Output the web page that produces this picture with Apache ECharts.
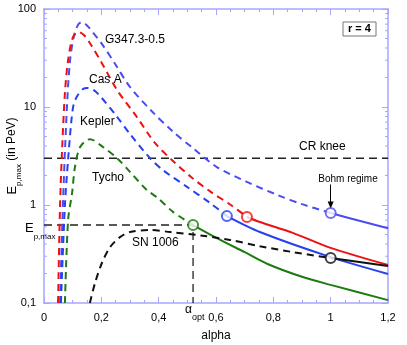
<!DOCTYPE html>
<html><head><meta charset="utf-8">
<script src="https://cdn.jsdelivr.net/npm/echarts@6/dist/echarts.min.js"></script>
<style>html,body{margin:0;padding:0;background:#fff}#c{width:407px;height:345px}</style>
</head><body><div id="c"></div>
<script>
// ---- tick labels ----
const xTicks = [0, 0.2, 0.4, 0.6, 0.8, 1, 1.2];
const xTickLabels = ['0', '0,2', '0,4', '0,6', '0,8', '1', '1,2'];
const yTicks = [0.1, 1, 10, 100];
const yTickLabels = ['0,1', '1', '10', '100'];

// ---- curves (alpha, E_p,max in PeV) ----
const g347Dashed = [[0.056,0.1],[0.066,1],[0.080,10],[0.091,30],[0.105,54],[0.120,70],[0.133,73.5],[0.150,68],[0.170,58],[0.202,44],[0.25,27],[0.30,16],[0.377,9],[0.45,5.6],[0.52,3.8],[0.603,2.44],[0.708,1.72],[0.816,1.26],[0.9,1.02],[1.0,0.83]];
const g347Solid = [[1.0,0.83],[1.1,0.69],[1.2,0.58]];
const casADashed = [[0.049,0.1],[0.056,1],[0.063,3.6],[0.073,13.9],[0.084,30],[0.101,51.7],[0.122,58],[0.14,54],[0.160,45],[0.202,28],[0.255,14.9],[0.324,7.9],[0.387,4.3],[0.446,2.88],[0.513,1.93],[0.582,1.36],[0.652,1.0],[0.708,0.755]];
const casASolid = [[0.708,0.755],[0.753,0.67],[0.868,0.52],[1.0,0.365],[1.2,0.244]];
const keplerDashed = [[0.059,0.1],[0.073,1],[0.084,2.9],[0.095,7],[0.103,10.5],[0.115,12.8],[0.135,15.2],[0.153,15.6],[0.175,14.8],[0.2,12.5],[0.25,8.3],[0.30,5.3],[0.37,3.0],[0.415,2.27],[0.499,1.53],[0.579,1.05],[0.638,0.77]];
const keplerSolid = [[0.638,0.77],[0.753,0.53],[1.0,0.294],[1.2,0.198]];
const tychoDashed = [[0.073,0.1],[0.084,0.7],[0.098,1.33],[0.108,2.44],[0.126,3.9],[0.160,4.7],[0.206,3.9],[0.255,3.0],[0.30,2.18],[0.359,1.42],[0.394,1.2],[0.45,0.85],[0.52,0.625]];
const tychoSolid = [[0.52,0.625],[0.603,0.46],[0.70,0.33],[0.78,0.25],[0.9,0.185],[1.0,0.153],[1.2,0.107]];
const sn1006Dashed = [[0.16,0.1],[0.178,0.16],[0.202,0.256],[0.23,0.37],[0.265,0.47],[0.30,0.53],[0.37,0.556],[0.44,0.53],[0.544,0.49],[0.649,0.44],[0.753,0.38],[0.87,0.33],[1.0,0.288]];
const sn1006Solid = [[1.0,0.288],[1.1,0.262],[1.2,0.238]];

// ---- reference lines ----
const crKnee = [[0, 3], [1.2, 3]];
const alphaOpt = 0.52;
const epMax = 0.625;
const optGuide = [[0, epMax], [alphaOpt, epMax], [alphaOpt, 0.1]];

// ---- Bohm-regime transition points ----
const bohmPoints = [[1.0,0.83],[0.708,0.755],[0.638,0.77],[0.52,0.625],[1.0,0.288]];
const bohmColors = ['#4b4bf2','#ee1111','#2640f0','#1e7a12','#111111'];

const FONT = '"Liberation Sans", Arial, Helvetica, sans-serif';
const AXIS_COLOR = '#a6a6ff';
const C_G347 = '#4b4bf2', C_CAS = '#ee1111', C_KEP = '#2640f0', C_TYC = '#1e7a12', C_SN = '#111111';

function dashed(data, color) {
  return {type:'line', data, smooth:0.3, symbol:'none', silent:true, z:3,
          lineStyle:{color, width:2, type:[7,5]}};
}
function solid(data, color) {
  return {type:'line', data, smooth:0.3, symbol:'none', silent:true, z:3,
          lineStyle:{color, width:2}};
}
const xFmt = v => { const i = xTicks.findIndex(t => Math.abs(t - v) < 1e-6); return i >= 0 ? xTickLabels[i] : ''; };
const yFmt = v => { const i = yTicks.findIndex(t => Math.abs(Math.log10(t) - Math.log10(v)) < 1e-6); return i >= 0 ? yTickLabels[i] : ''; };

const axisLineStyle = {color: AXIS_COLOR, width: 1.5};
function xAx(pos, labels) {
  return {type:'value', min:0, max:1.2, interval:0.2, position:pos,
    axisLine:{onZero:false, lineStyle:axisLineStyle},
    axisTick:{inside:true, length:6, lineStyle:{color:AXIS_COLOR, width:1}},
    minorTick:{show:true, splitNumber:4, length:3, lineStyle:{color:AXIS_COLOR, width:1}},
    splitLine:{show:false},
    axisLabel:{show:labels, color:'#000', fontSize:11, fontFamily:FONT, margin:9, formatter:xFmt}};
}
function yAx(pos, labels) {
  return {type:'log', logBase:10, min:0.1, max:100, position:pos,
    axisLine:{onZero:false, lineStyle:axisLineStyle},
    axisTick:{inside:true, length:6, lineStyle:{color:AXIS_COLOR, width:1}},
    minorTick:{show:false},
    splitLine:{show:false},
    axisLabel:{show:labels, color:'#000', fontSize:11, fontFamily:FONT, margin:8, formatter:yFmt}};
}

const chart = echarts.init(document.getElementById('c'));
const xa0 = xAx('bottom', true);
xa0.name = 'alpha'; xa0.nameLocation = 'middle'; xa0.nameGap = 27; xa0.nameMoveOverlap = false;
xa0.nameTextStyle = {color:'#000', fontSize:12, fontFamily:FONT};
const ya0 = yAx('left', true);
ya0.name = '{E|E}{s|p,max}{n| (in PeV)}'; ya0.nameLocation = 'middle'; ya0.nameGap = 23; ya0.nameMoveOverlap = false;
ya0.nameTextStyle = {color:'#000', fontFamily:FONT, rich:{
  E:{fontSize:13, color:'#000', fontFamily:FONT, lineHeight:18},
  s:{fontSize:8, color:'#000', fontFamily:FONT, lineHeight:18, verticalAlign:'bottom', padding:[0,0,-2,0]},
  n:{fontSize:12, color:'#000', fontFamily:FONT, lineHeight:18}}};

chart.setOption({
  animation:false,
  backgroundColor:'#fff',
  grid:{left:44, right:19, top:9, bottom:42, containLabel:false, outerBoundsMode:'none'},
  xAxis:[xa0, xAx('top', false)],
  yAxis:[ya0, yAx('right', false)],
  series:[
    {type:'line', data:crKnee, symbol:'none', silent:true, z:2, lineStyle:{color:'#222', width:1.3, type:[8,5]}},
    {type:'line', data:optGuide, symbol:'none', silent:true, z:2, lineStyle:{color:'#222', width:1.3, type:[8,5]}},
    dashed(g347Dashed, C_G347), solid(g347Solid, C_G347),
    dashed(casADashed, C_CAS), solid(casASolid, C_CAS),
    dashed(keplerDashed, C_KEP), solid(keplerSolid, C_KEP),
    dashed(tychoDashed, C_TYC), solid(tychoSolid, C_TYC),
    dashed(sn1006Dashed, C_SN), solid(sn1006Solid, C_SN),
    {type:'scatter', z:5, symbol:'emptyCircle', symbolSize:10, silent:true,
     data: bohmPoints.map((p, i) => ({value:p, itemStyle:{color:bohmColors[i], borderColor:bohmColors[i], borderWidth:1.8}}))},
    {type:'line', data:[], symbol:'none', silent:true,
     markLine:{silent:true, symbol:['none','triangle'], symbolSize:[6,7], label:{show:false},
       lineStyle:{color:'#000', width:1, type:'solid'},
       data:[[{coord:[1.0, 1.62]}, {coord:[1.0, 1.0]}]]}}
  ]
});

// minor log ticks on left/right axes, placed through the axis scale
const gx0 = chart.convertToPixel({xAxisIndex:0}, 0);
const gx1 = chart.convertToPixel({xAxisIndex:0}, 1.2);
const graphics = [];
[0.1, 1, 10].forEach(d => {
  for (let k = 2; k <= 9; k++) {
    const y = chart.convertToPixel({yAxisIndex:0}, k * d);
    graphics.push({type:'line', silent:true, shape:{x1:gx0, y1:y, x2:gx0 + 3, y2:y}, style:{stroke:AXIS_COLOR, lineWidth:1}});
    graphics.push({type:'line', silent:true, shape:{x1:gx1, y1:y, x2:gx1 - 3, y2:y}, style:{stroke:AXIS_COLOR, lineWidth:1}});
  }
});
function txt(x, y, text, size, extra) {
  return Object.assign({type:'text', x, y, silent:true, z:10,
    style:{text, fill:'#000', fontSize:size || 12, fontFamily:FONT, verticalAlign:'middle', align:'left'}}, extra || {});
}
graphics.push(txt(105, 40, 'G347.3-0.5', 12));
graphics.push(txt(89, 80, 'Cas A', 12));
graphics.push(txt(80, 122, 'Kepler', 12));
graphics.push(txt(92, 178, 'Tycho', 12));
graphics.push(txt(132, 243, 'SN 1006', 12));
graphics.push(txt(299, 147, 'CR knee', 12));
graphics.push({type:'text', x:348, y:179, silent:true, z:10,
  style:{text:'Bohm regime', fill:'#000', fontSize:10, fontFamily:FONT, align:'center', verticalAlign:'middle'}});
// r = 4 box
graphics.push({type:'rect', silent:true, z:10, shape:{x:343, y:22, width:33, height:14},
  style:{fill:'#fff', stroke:'#777', lineWidth:1}});
graphics.push({type:'text', x:359.5, y:29, silent:true, z:11,
  style:{text:'r = 4', fill:'#000', fontSize:11, fontWeight:'bold', fontFamily:FONT, align:'center', verticalAlign:'middle'}});
// E_p,max label
const yEp = chart.convertToPixel({yAxisIndex:0}, epMax);
graphics.push({type:'text', x:25, y:yEp + 3, silent:true, z:10,
  style:{text:'{E|E}{s|p,max}', verticalAlign:'middle', align:'left', rich:{
    E:{fontSize:13, fontFamily:FONT, fill:'#000', lineHeight:18},
    s:{fontSize:8, fontFamily:FONT, fill:'#000', lineHeight:18, verticalAlign:'bottom', padding:[0,0,-4,0]}}}});
// alpha_opt label
const xOpt = chart.convertToPixel({xAxisIndex:0}, alphaOpt);
graphics.push({type:'text', x:xOpt - 8, y:313, silent:true, z:10,
  style:{text:'{a|α}{s|opt}', verticalAlign:'middle', align:'left', rich:{
    a:{fontSize:12, fontFamily:FONT, fill:'#000', lineHeight:18, verticalAlign:'top'},
    s:{fontSize:9, fontFamily:FONT, fill:'#000', lineHeight:18, verticalAlign:'bottom'}}}});
chart.setOption({graphic:graphics});
</script>
</body></html>
